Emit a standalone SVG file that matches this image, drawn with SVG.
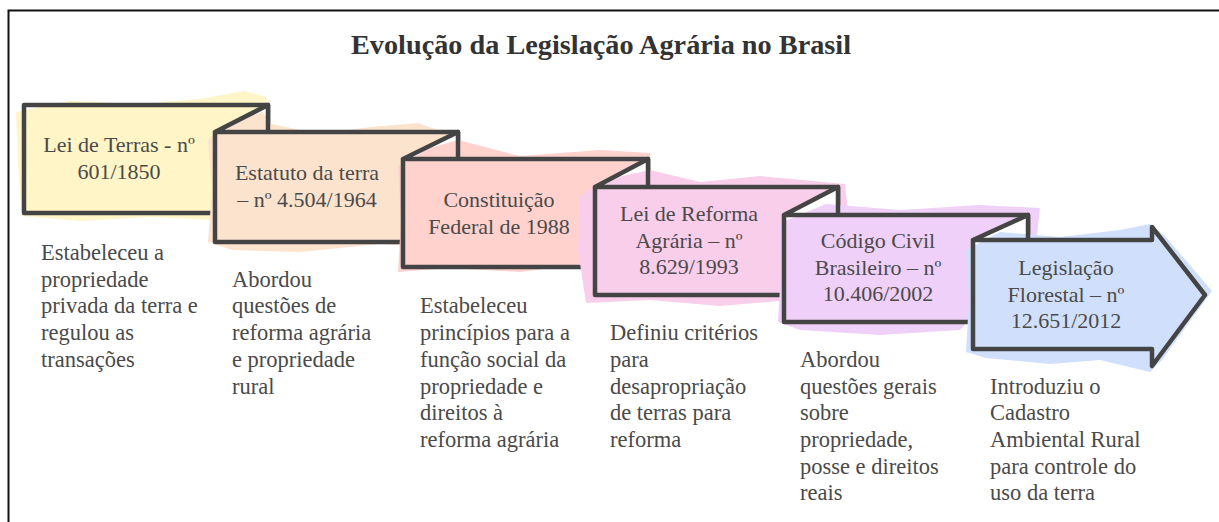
<svg xmlns="http://www.w3.org/2000/svg" width="1219" height="522" viewBox="0 0 1219 522">
<style>
.frame{fill:none;stroke:#111;stroke-width:2}
.title{font-family:"Liberation Serif",serif;font-size:27px;font-weight:bold;fill:#333;text-anchor:middle}
.base{fill:#fff;stroke:none}
.ol{fill:none;stroke:#444;stroke-width:4.5;stroke-linejoin:round;stroke-linecap:round}
.lbl{font-family:"Liberation Serif",serif;font-size:22px;fill:#4a4a4a;text-anchor:middle}
.desc{font-family:"Liberation Serif",serif;font-size:22.5px;fill:#4a4a4a}
</style>
<rect width="1219" height="522" fill="#fff"/>
<path class="frame" d="M8.5,522 V10.5 H1219"/>
<text class="title" x="601" y="54" textLength="500" lengthAdjust="spacingAndGlyphs">Evolução da Legislação Agrária no Brasil</text>

<g id="n1">
<polygon fill="#FFF5C6" points="16,112 70,101 140,104 200,99 244,91 266,97 271,128 215,140 214,220 150,217 80,221 22,216 18,165"/>
<rect class="ol" x="24" y="105" width="244" height="108"/>
<text class="lbl"><tspan x="119" y="152">Lei de Terras - nº</tspan><tspan x="119" y="179">601/1850</tspan></text>
<text class="desc"><tspan x="41" y="260">Estabeleceu a</tspan><tspan x="41" y="286.7">propriedade</tspan><tspan x="41" y="313.4">privada da terra e</tspan><tspan x="41" y="340.1">regulou as</tspan><tspan x="41" y="366.8">transações</tspan></text>
</g>

<g id="n2">
<polygon class="base" points="215,132 268,105 268,132 458,132 458,242 215,242"/>
<polygon fill="#FCE3CE" points="208,140 222,126 262,112 272,124 320,134 370,127 418,123 460,138 458,200 440,248 380,244 300,252 232,250 208,242 212,190"/>
<path class="ol" d="M215,132 H458 V242 H215 Z M268,105 L215,132 M268,105 V132"/>
<text class="lbl"><tspan x="307" y="180">Estatuto da terra</tspan><tspan x="307" y="207">– nº 4.504/1964</tspan></text>
<text class="desc"><tspan x="232" y="286.7">Abordou</tspan><tspan x="232" y="313.4">questões de</tspan><tspan x="232" y="340.1">reforma agrária</tspan><tspan x="232" y="366.8">e propriedade</tspan><tspan x="232" y="393.5">rural</tspan></text>
</g>

<g id="n3">
<polygon class="base" points="403,159 458,132 458,159 648,159 648,267 403,267"/>
<polygon fill="#FFD2CE" points="398,166 430,148 458,140 520,156 600,150 650,153 652,200 600,262 520,272 450,268 398,272 401,220"/>
<path class="ol" d="M403,159 H648 V267 H403 Z M458,132 L403,159 M458,132 V159"/>
<text class="lbl"><tspan x="499" y="207">Constituição</tspan><tspan x="499" y="234">Federal de 1988</tspan></text>
<text class="desc"><tspan x="420" y="313.4">Estabeleceu</tspan><tspan x="420" y="340.1">princípios para a</tspan><tspan x="420" y="366.8">função social da</tspan><tspan x="420" y="393.5">propriedade e</tspan><tspan x="420" y="420.2">direitos à</tspan><tspan x="420" y="446.9">reforma agrária</tspan></text>
</g>

<g id="n4">
<polygon class="base" points="595,187 648,159 648,187 838,187 838,295 595,295"/>
<polygon fill="#F9CEEA" points="580,196 604,180 650,170 700,182 760,176 845,184 850,232 790,300 720,306 650,300 586,303 578,250"/>
<path class="ol" d="M595,187 H838 V295 H595 Z M648,159 L595,187 M648,159 V187"/>
<text class="lbl"><tspan x="689" y="221">Lei de Reforma</tspan><tspan x="689" y="247.7">Agrária – nº</tspan><tspan x="689" y="274.4">8.629/1993</tspan></text>
<text class="desc"><tspan x="610" y="340.1">Definiu critérios</tspan><tspan x="610" y="366.8">para</tspan><tspan x="610" y="393.5">desapropriação</tspan><tspan x="610" y="420.2">de terras para</tspan><tspan x="610" y="446.9">reforma</tspan></text>
</g>

<g id="n5">
<polygon class="base" points="784,215 838,187 838,215 1028,215 1028,322 784,322"/>
<polygon fill="#EFD0F8" points="778,224 826,204 900,210 980,205 1040,208 1036,244 960,330 880,335 800,330 778,322 781,270"/>
<path class="ol" d="M784,215 H1028 V322 H784 Z M838,187 L784,215 M838,187 V215"/>
<text class="lbl"><tspan x="878" y="248">Código Civil</tspan><tspan x="878" y="274.7">Brasileiro – nº</tspan><tspan x="878" y="301.4">10.406/2002</tspan></text>
<text class="desc"><tspan x="800" y="366.8">Abordou</tspan><tspan x="800" y="393.5">questões gerais</tspan><tspan x="800" y="420.2">sobre</tspan><tspan x="800" y="446.9">propriedade,</tspan><tspan x="800" y="473.6">posse e direitos</tspan><tspan x="800" y="500.3">reais</tspan></text>
</g>

<g id="n6">
<polygon class="base" points="973,240 1028,215 1028,240 1152,240 1152,227 1205,295 1152,366 1152,349 973,349"/>
<polygon fill="#D0E0FC" points="966,250 1000,232 1060,237 1120,230 1150,224 1165,236 1212,291 1162,360 1150,372 1100,360 1050,364 986,358 966,352 969,300"/>
<path class="ol" d="M973,240 H1152 V227 L1205,295 L1152,366 V349 H973 Z M1028,215 L973,240 M1028,215 V240"/>
<text class="lbl"><tspan x="1066" y="275">Legislação</tspan><tspan x="1066" y="301.7">Florestal – nº</tspan><tspan x="1066" y="328.4">12.651/2012</tspan></text>
<text class="desc"><tspan x="990" y="393.5">Introduziu o</tspan><tspan x="990" y="420.2">Cadastro</tspan><tspan x="990" y="446.9">Ambiental Rural</tspan><tspan x="990" y="473.6">para controle do</tspan><tspan x="990" y="500.3">uso da terra</tspan></text>
</g>
</svg>
